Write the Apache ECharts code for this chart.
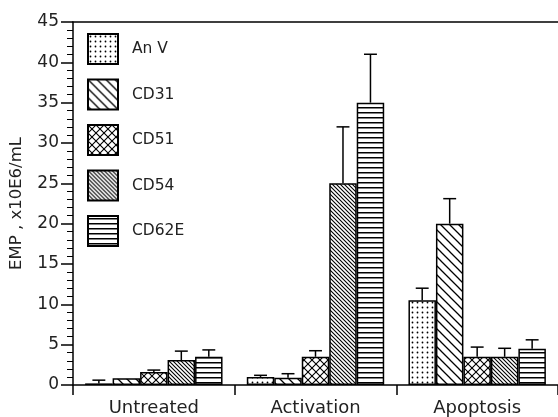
<!DOCTYPE html>
<html>
<head>
<meta charset="utf-8">
<script src="https://cdn.jsdelivr.net/npm/echarts@6/dist/echarts.min.js"></script>
<style>
html,body{margin:0;padding:0;background:#fff;}
#chart{width:558px;height:417px;}
</style>
</head>
<body>
<div id="chart"></div>
<script>
// ---- data ----
const categories = ['Untreated', 'Activation', 'Apoptosis'];
const seriesNames = ['An V', 'CD31', 'CD51', 'CD54', 'CD62E'];
const anvValues   = [0.2, 1.0, 10.5];
const cd31Values  = [0.85, 0.9, 20.0];
const cd51Values  = [1.6, 3.5, 3.5];
const cd54Values  = [3.1, 25.0, 3.5];
const cd62eValues = [3.5, 35.0, 4.5];
// upper end of error bars
const anvErrTop   = [0.6, 1.2, 12.0];
const cd31ErrTop  = [0.85, 1.4, 23.1];
const cd51ErrTop  = [1.85, 4.25, 4.7];
const cd54ErrTop  = [4.2, 32.0, 4.55];
const cd62eErrTop = [4.35, 41.0, 5.6];
const yTicks = [0, 5, 10, 15, 20, 25, 30, 35, 40, 45];

const allValues = [anvValues, cd31Values, cd51Values, cd54Values, cd62eValues];
const allErr = [anvErrTop, cd31ErrTop, cd51ErrTop, cd54ErrTop, cd62eErrTop];

// ---- patterns ----
function tile(w, h, draw) {
  const c = document.createElement('canvas');
  c.width = w; c.height = h;
  const g = c.getContext('2d');
  g.fillStyle = '#fff'; g.fillRect(0, 0, w, h);
  g.strokeStyle = '#000'; g.fillStyle = '#000';
  draw(g, w, h);
  return c;
}
function diag(g, n, lw) {
  g.lineWidth = lw;
  g.beginPath();
  g.moveTo(-1, -1); g.lineTo(n + 1, n + 1);
  g.moveTo(-1, n - 1); g.lineTo(1, n + 1);
  g.moveTo(n - 1, -1); g.lineTo(n + 1, 1);
  g.stroke();
}
function anti(g, n, lw) {
  g.lineWidth = lw;
  g.beginPath();
  g.moveTo(-1, n + 1); g.lineTo(n + 1, -1);
  g.moveTo(-1, 1); g.lineTo(1, -1);
  g.moveTo(n - 1, n + 1); g.lineTo(n + 1, n - 1);
  g.stroke();
}
const patterns = [
  tile(5, 5, (g) => { g.beginPath(); g.arc(2.5, 2.5, 0.9, 0, Math.PI * 2); g.fill(); }),
  tile(9, 9, (g) => diag(g, 9, 1.3)),
  tile(8, 8, (g) => { diag(g, 8, 1.1); anti(g, 8, 1.1); }),
  tile(4, 4, (g) => diag(g, 4, 1.1)),
  tile(4, 5, (g) => { g.fillRect(0, 2, 4, 1.5); })
];

const barSeries = seriesNames.map((name, i) => ({
  name: name,
  type: 'bar',
  data: allValues[i],
  barGap: '0%',
  barCategoryGap: '15%',
  itemStyle: {
    color: { image: patterns[i], repeat: 'repeat' },
    borderColor: '#000',
    borderWidth: 1.5
  },
  emphasis: { disabled: true },
  silent: true
}));

const errData = [];
allErr.forEach((arr, i) => {
  arr.forEach((v, j) => errData.push([j, i, allValues[i][j], v]));
});

const errSeries = {
  type: 'custom',
  name: 'err',
  silent: true,
  z: 5,
  data: errData,
  encode: { x: 0, y: 2 },
  renderItem: function (params, api) {
    const cat = api.value(0), s = api.value(1), val = api.value(2), top = api.value(3);
    if (top <= val) return null;
    const catW = api.size([1, 0])[0];
    const barW = catW * 0.85 / 5;
    const center = api.coord([cat, 0])[0];
    const x = center + (s - 2) * barW;
    const y1 = api.coord([cat, val])[1];
    const y2 = api.coord([cat, top])[1];
    const cap = barW * 0.47;
    const st = { stroke: '#000', lineWidth: 1.5 };
    return {
      type: 'group',
      children: [
        { type: 'line', shape: { x1: x, y1: y1, x2: x, y2: y2 }, style: st },
        { type: 'line', shape: { x1: x - cap / 2, y1: y2, x2: x + cap / 2, y2: y2 }, style: st }
      ]
    };
  }
};

const font = '"DejaVu Sans", sans-serif';
const chart = echarts.init(document.getElementById('chart'), null, { renderer: 'canvas' });
chart.setOption({
  animation: false,
  backgroundColor: '#fff',
  grid: { left: 72, top: 22, right: 0, bottom: 30, containLabel: false },
  legend: {
    data: seriesNames,
    orient: 'vertical',
    left: 82,
    top: 28,
    icon: 'rect',
    itemWidth: 30,
    itemHeight: 30,
    itemGap: 13.5,
    selectedMode: false,
    textStyle: { fontFamily: font, fontSize: 15.5, color: '#222', padding: [0, 0, 0, 9] }
  },
  xAxis: [{
    type: 'category',
    data: categories,
    position: 'bottom',
    axisLine: { lineStyle: { color: '#000', width: 1.5 } },
    axisTick: { show: true, length: 10, lineStyle: { color: '#000', width: 1.5 } },
    axisLabel: { fontFamily: font, fontSize: 18, color: '#222', margin: 14 }
  }, {
    type: 'category',
    data: categories,
    position: 'top',
    axisLine: { show: true, lineStyle: { color: '#000', width: 1.5 } },
    axisTick: { show: false },
    axisLabel: { show: false }
  }],
  yAxis: {
    type: 'value',
    min: yTicks[0],
    max: yTicks[yTicks.length - 1],
    interval: 5,
    name: 'EMP , x10E6/mL',
    nameLocation: 'middle',
    nameGap: 48,
    nameTextStyle: { fontFamily: font, fontSize: 16.5, color: '#222' },
    axisLine: { show: true, lineStyle: { color: '#000', width: 1.5 } },
    axisTick: { show: true, length: 12, lineStyle: { color: '#000', width: 1.5 } },
    minorTick: { show: true, splitNumber: 5, length: 6, lineStyle: { color: '#000', width: 1 } },
    splitLine: { show: false },
    axisLabel: { fontFamily: font, fontSize: 17, color: '#222', margin: 14 }
  },
  series: barSeries.concat([errSeries])
});
</script>
</body>
</html>
